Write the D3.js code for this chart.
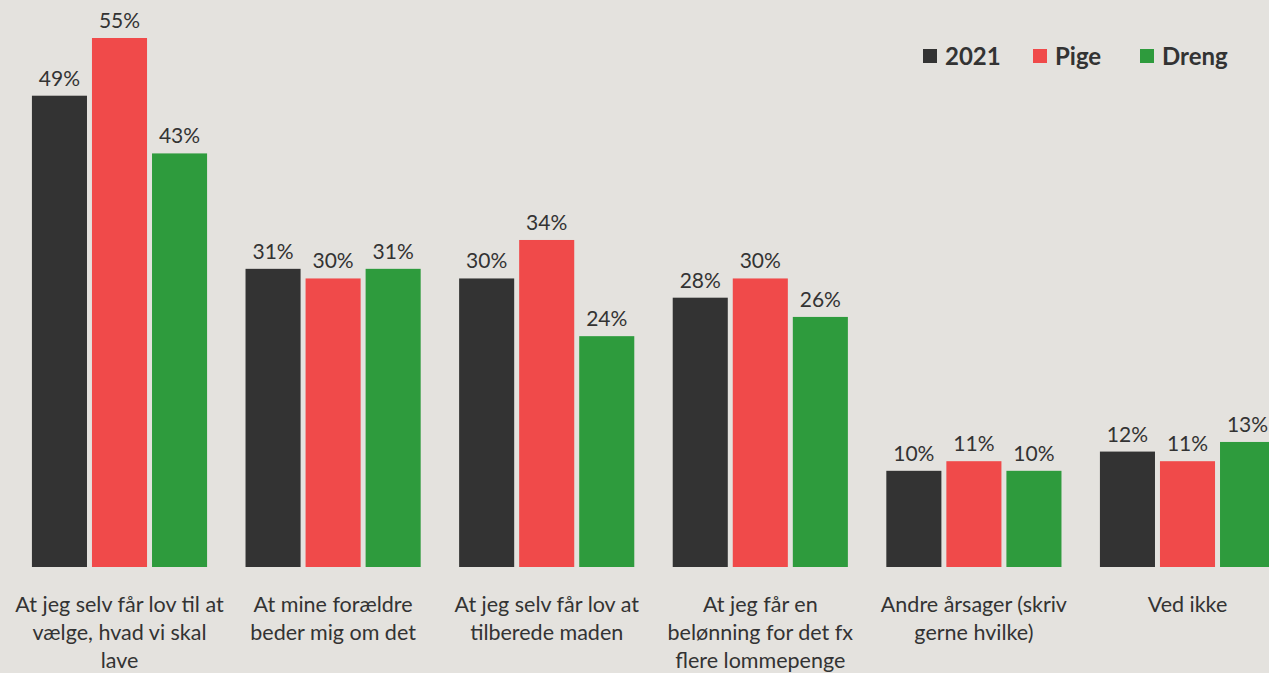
<!DOCTYPE html>
<html>
<head>
<meta charset="utf-8">
<script src="https://cdn.jsdelivr.net/npm/d3@7"></script>
<style>
  body { margin: 0; background: #e4e2de; overflow: hidden; }
  svg { display: block; font-family: "Lato", "Open Sans", sans-serif; }
</style>
</head>
<body>
<div id="chart"></div>
<script>
const WIDTH = 1269, HEIGHT = 673;

// data
var categories = [
  "At jeg selv får lov til at|vælge, hvad vi skal|lave",
  "At mine forældre|beder mig om det",
  "At jeg selv får lov at|tilberede maden",
  "At jeg får en|belønning for det fx|flere lommepenge",
  "Andre årsager (skriv|gerne hvilke)",
  "Ved ikke"
]
var series = ["2021", "Pige", "Dreng"]
var vals2021 = [49, 31, 30, 28, 10, 12]
var valsPige = [55, 30, 34, 30, 11, 11]
var valsDreng = [43, 31, 24, 26, 10, 13]

var colors = ["#333333", "#f04a4a", "#2e9b3d"]

var data = categories.map(function(c, i) {
  return {cat: c, values: [
    {key: "2021", value: vals2021[i]},
    {key: "Pige", value: valsPige[i]},
    {key: "Dreng", value: valsDreng[i]}
  ]}
})

const svg = d3.select("#chart").append("svg")
  .attr("width", WIDTH)
  .attr("height", HEIGHT)

var x0 = d3.scaleBand()
  .domain(categories)
  .range([12.7, 1294.3])
  .paddingInner(0.18)
  .paddingOuter(0.09)

var x1 = d3.scaleBand()
  .domain(series)
  .range([0, x0.bandwidth()])
  .paddingInner(0.083)

var y = d3.scaleLinear()
  .domain([0, 55])
  .range([567, 38])

var color = d3.scaleOrdinal().domain(series).range(colors)

var groups = svg.selectAll("g.grp")
  .data(data)
  .enter()
  .append("g")
  .attr("class", "grp")
  .attr("transform", function(d){ return "translate(" + x0(d.cat) + ",0)" })

groups.selectAll("rect")
  .data(function(d){ return d.values })
  .enter()
  .append("rect")
    .attr("x", function(d){ return x1(d.key) })
    .attr("y", function(d){ return y(d.value) })
    .attr("width", x1.bandwidth())
    .attr("height", function(d){ return y(0) - y(d.value) })
    .attr("fill", function(d){ return color(d.key) })

groups.selectAll("text.val")
  .data(function(d){ return d.values })
  .enter()
  .append("text")
    .attr("class", "val")
    .attr("x", function(d){ return x1(d.key) + x1.bandwidth()/2 })
    .attr("y", function(d){ return y(d.value) - 10 })
    .attr("text-anchor", "middle")
    .attr("font-size", "21px")
    .attr("fill", "#333")
    .text(function(d){ return d.value + "%" })

// category labels
groups.append("text")
  .attr("class", "cat")
  .attr("text-anchor", "middle")
  .attr("font-size", "21.5px")
  .attr("fill", "#333")
  .each(function(d){
    var t = d3.select(this)
    d.cat.split("|").forEach(function(line, i){
      t.append("tspan")
        .attr("x", x0.bandwidth()/2)
        .attr("y", 612 + i*28)
        .text(line)
    })
  })

// legend
var legendX = [923, 1033, 1140]
var legend = svg.selectAll("g.leg")
  .data(series)
  .enter()
  .append("g")
  .attr("class", "leg")
  .attr("transform", function(d, i){ return "translate(" + legendX[i] + ",49)" })

legend.append("rect")
  .attr("width", 14)
  .attr("height", 14)
  .attr("fill", function(d){ return color(d) })

legend.append("text")
  .attr("x", 22)
  .attr("y", 16)
  .attr("font-size", "24px")
  .attr("font-weight", "bold")
  .attr("fill", "#333")
  .text(function(d){ return d })
</script>
</body>
</html>
